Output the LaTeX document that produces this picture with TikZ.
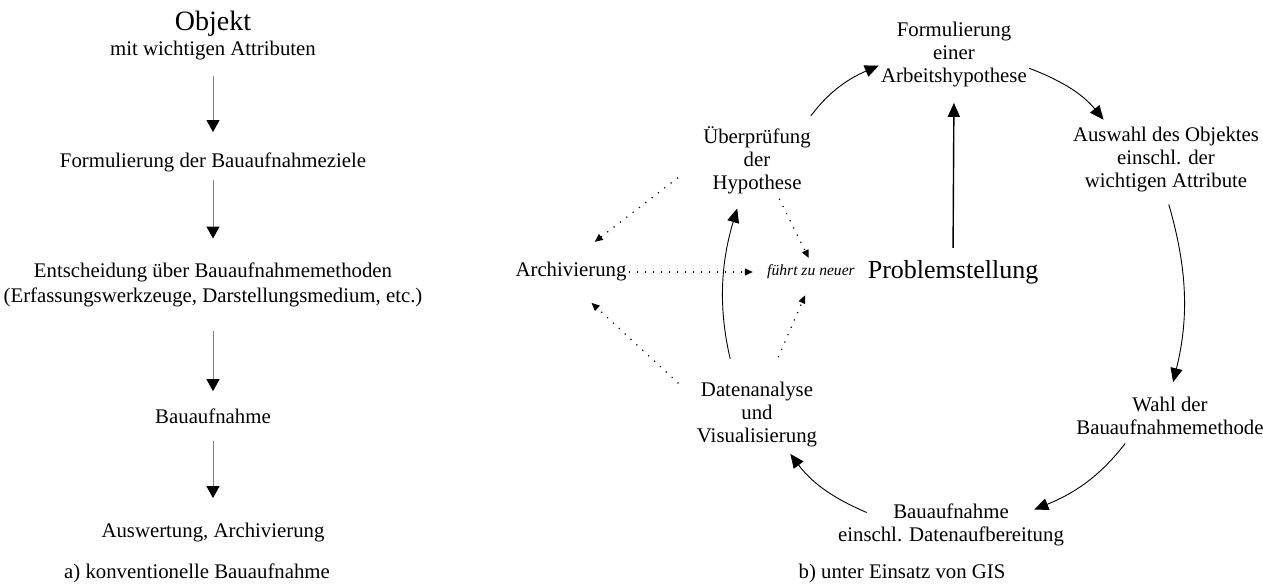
\documentclass[tikz,border=0pt]{standalone}
\usepackage{fontspec}
\setmainfont{Liberation Serif}
\usetikzlibrary{arrows.meta}

\begin{document}
\begin{tikzpicture}[x=0.5pt,y=-0.5pt,
  every node/.style={align=center, inner sep=0pt, font=\fontsize{10.4}{12.5}\selectfont},
  cycnode/.style={inner sep=1pt, font=\fontsize{10.4}{11.5}\selectfont},
  down/.style={draw=black!50, line width=0.5pt, -{Triangle[length=6pt,width=6.5pt,color=black]}},
  cyc/.style={line width=0.45pt, bend left=15, -{Triangle[length=7pt,width=6pt]}},
  dots/.style={line width=0.6pt, dash pattern=on 0.6pt off 3.4pt, -{Triangle[length=4pt,width=3.5pt]}}]

  % Define the size of the picture
  \useasboundingbox (0,0) rectangle (1263,588);

  % a) the conventional sequence
  \node (obj) at (213,36) {{\fontsize{14}{16}\selectfont Objekt}\\mit wichtigen Attributen};
  \node (ziele) at (213,162) {Formulierung der Bauaufnahmeziele};
  \node (methode) at (213,285) {Entscheidung über Bauaufnahmemethoden\\(Erfassungswerkzeuge, Darstellungsmedium, etc.)};
  \node (aufn) at (213,416) {Bauaufnahme};
  \node (auswert) at (213,533) {Auswertung, Archivierung};
  \node (capa) at (197,573) {a) konventionelle Bauaufnahme};

  % Draw the arrows between the steps
  \foreach \a/\b/\s/\e in {obj/ziele/7.5pt/10pt, ziele/methode/4pt/12pt,
                           methode/aufn/12pt/8.5pt, aufn/auswert/8.5pt/12.5pt} {
    \draw[down, shorten <=\s, shorten >=\e] (\a) -- (\b);
  }

  % b) the cycle with GIS
  \node[cycnode] (arbeit) at (954,55) {Formulierung\\einer\\Arbeitshypothese};
  \node[cycnode] (auswahl) at (1166,160) {Auswahl des Objektes\\einschl. der\\wichtigen Attribute};
  \node[cycnode] (wahl) at (1170,416) {Wahl der\\Bauaufnahmemethode};
  \node[cycnode] (aufnahme) at (951,525) {Bauaufnahme\\einschl. Datenaufbereitung};
  \node[cycnode] (analyse) at (757,415) {Datenanalyse\\und\\Visualisierung};
  \node[cycnode] (pruefung) at (757,160) {Überprüfung\\der\\Hypothese};
  \node[cycnode] (archiv) at (571,272) {Archivierung};
  \node[cycnode] (fuehrt) at (811,272) {\fontsize{7.8}{9}\selectfont\itshape führt zu neuer};
  \node[cycnode] (problem) at (953,272) {\fontsize{13}{15}\selectfont Problemstellung};
  \node (capb) at (902,573) {b) unter Einsatz von GIS};

  % Draw the cycle
  \draw[cyc, shorten <=5pt] (pruefung.37) to (arbeit.188);
  \draw[cyc, shorten >=3.5pt] (arbeit.-10) to (auswahl.149);
  \draw[cyc, shorten <=5pt, shorten >=6.5pt] (auswahl.south) to (wahl.north);
  \draw[cyc, shorten <=4pt] (wahl.208) to ([shift={(-32,8)}]aufnahme.north east);
  \draw[cyc, shorten >=2.5pt] ([shift={(31,11)}]aufnahme.north west) to (analyse.-49);
  \draw[cyc, shorten <=11pt, shorten >=6.5pt] (analyse.122) to (pruefung.246);
  \draw[line width=0.7pt, -{Triangle[length=7pt,width=6pt]}, shorten <=5pt, shorten >=6.5pt]
    (problem.north) -- (arbeit.south);

  % Draw the dotted arrows
  \draw[dots, shorten <=14.5pt, shorten >=15pt] (pruefung.west) -- (archiv.north);
  \draw[dots, shorten <=1.5pt, shorten >=2.5pt] (pruefung.-60) -- (fuehrt.north);
  \draw[dots, shorten >=6pt] (archiv.east) -- (fuehrt.west);
  \draw[dots, shorten <=11pt, shorten >=14pt] (analyse.165) -- (archiv.south);
  \draw[dots, shorten <=12.5pt, shorten >=7.5pt] (analyse.72) -- (fuehrt.south);

\end{tikzpicture}
\end{document}
